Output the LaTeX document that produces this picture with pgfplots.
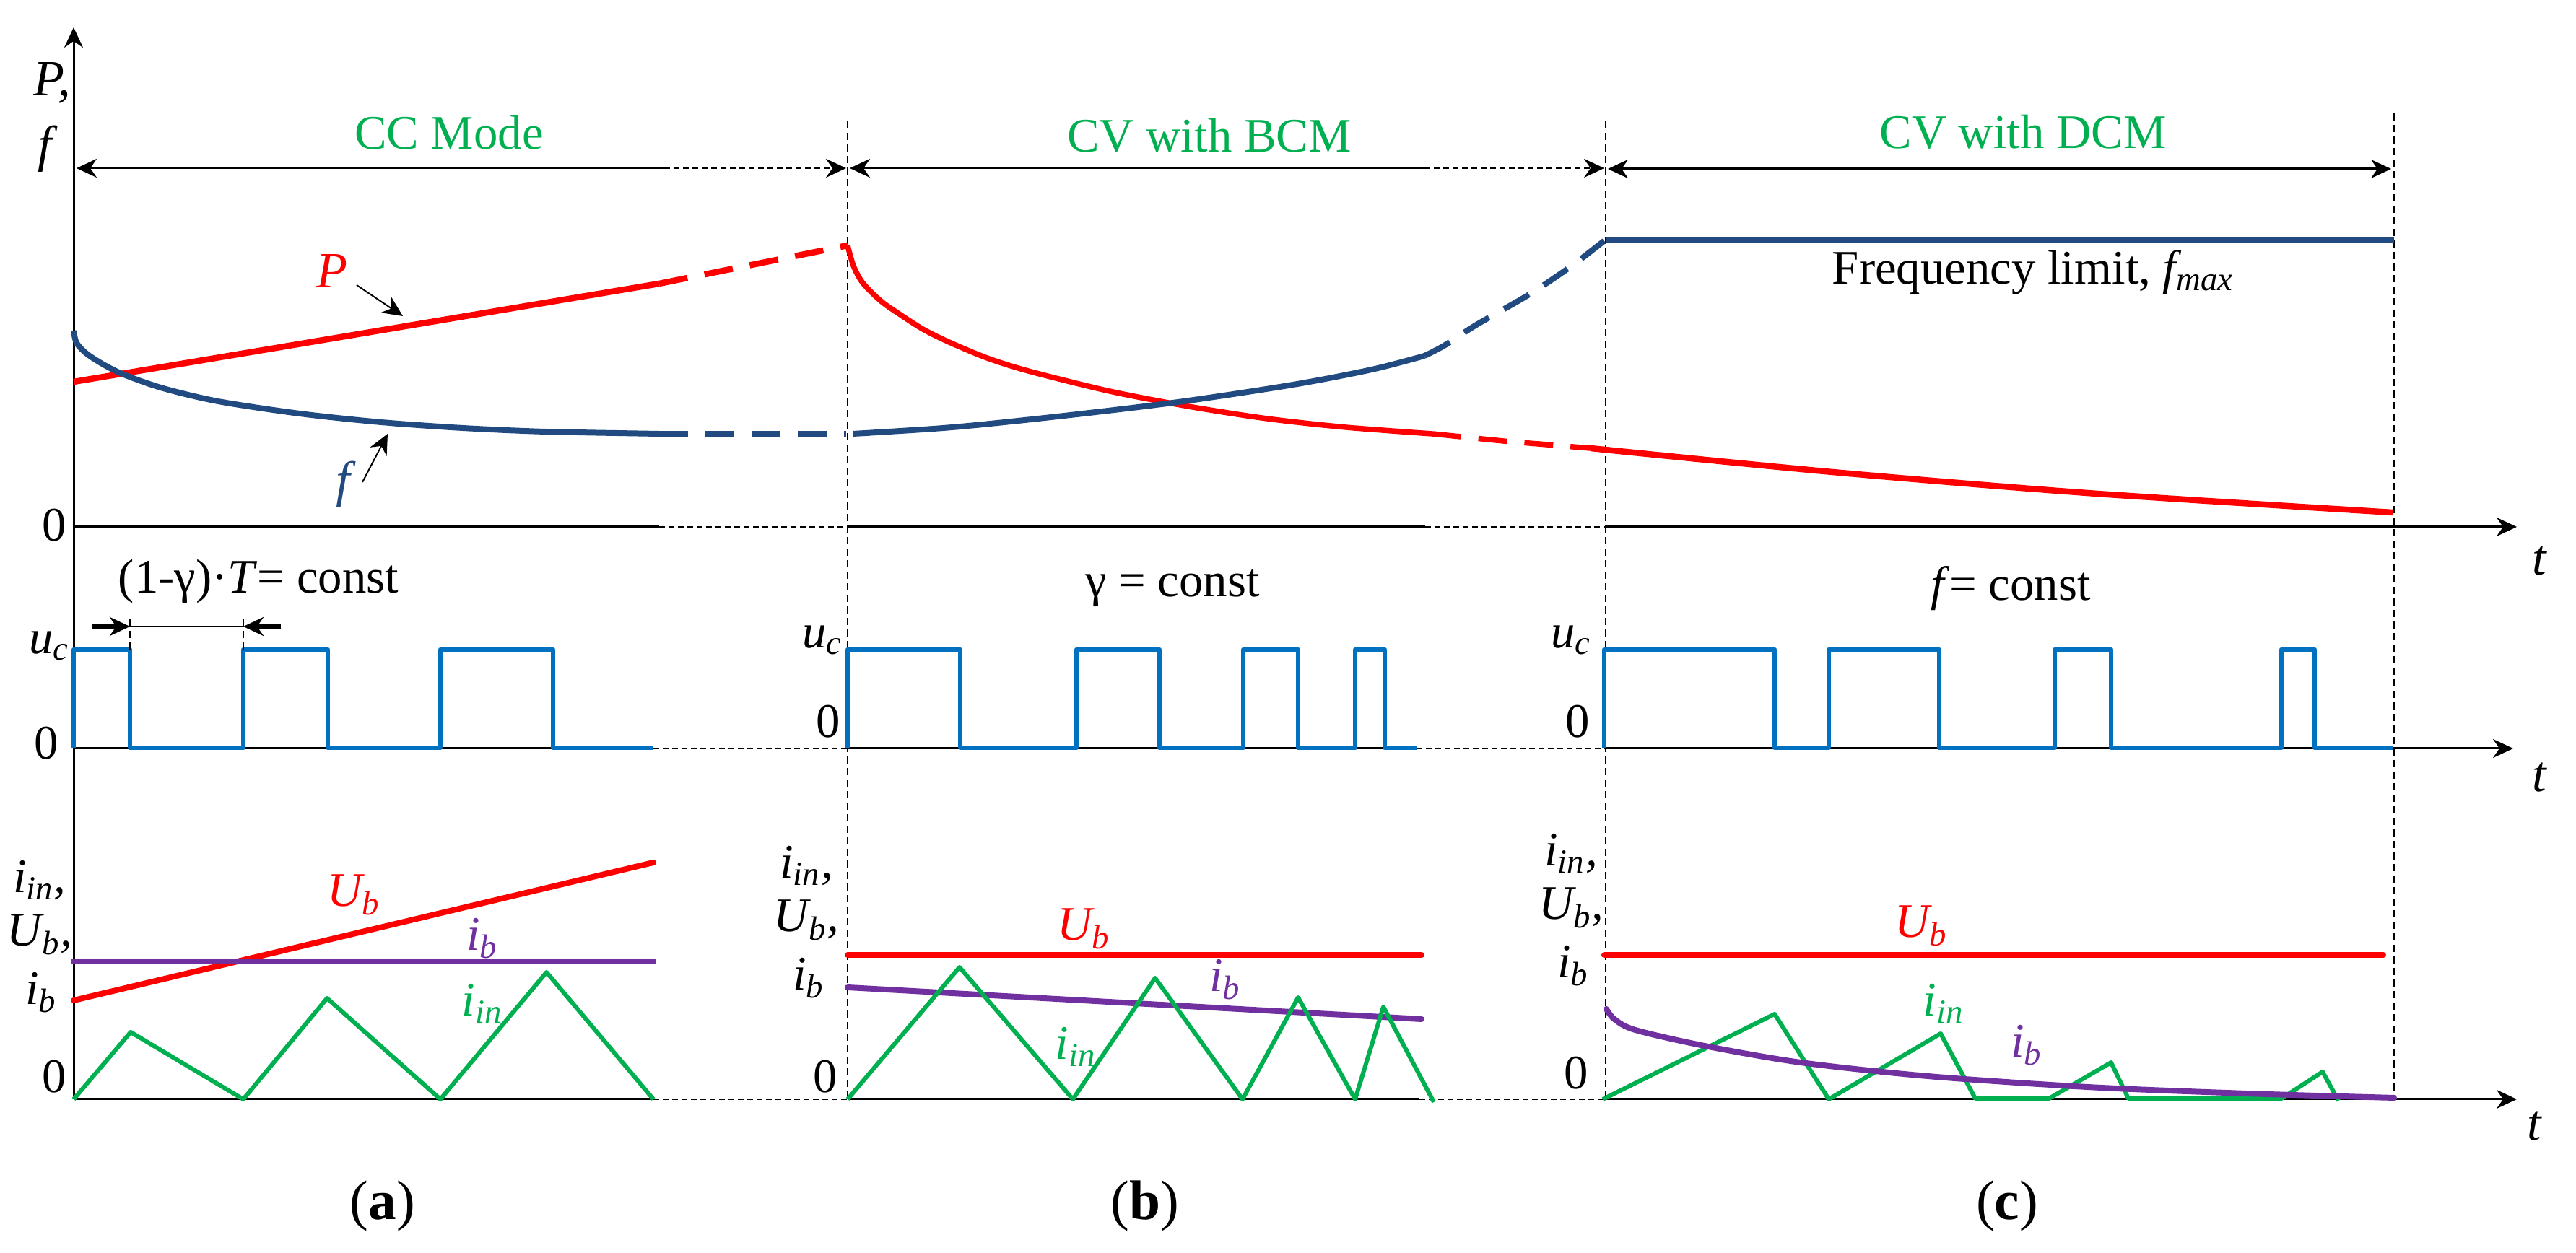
\documentclass[border=0pt]{standalone}
\usepackage{fontspec}
\setmainfont{Liberation Serif}
\usepackage{pgfplots}
\pgfplotsset{compat=1.18}
\usetikzlibrary{arrows.meta}
\definecolor{pred}{RGB}{255,0,0}
\definecolor{pnavy}{RGB}{33,74,128}
\definecolor{pblue}{RGB}{0,112,192}
\definecolor{pgreen}{RGB}{0,176,80}
\definecolor{ppurple}{RGB}{112,48,160}
\newcommand\fs{\fontsize{19}{22}\selectfont}
\newcommand\fl{\fontsize{20}{24}\selectfont}
\begin{document}
\begin{tikzpicture}[>={Stealth[length=2.8mm,width=2.6mm,inset=0.9mm]}]
\begin{axis}[width=356.8mm,height=173.6mm,scale only axis,
  xmin=0,xmax=3568,ymin=0,ymax=1736,y dir=reverse,
  axis lines=none,clip=false,no markers,
  every axis plot/.append style={line join=round}]
% ---------- axes ----------
\draw[line width=0.3mm,->] (axis cs:102,1523) -- (axis cs:102,38);
\draw[line width=0.3mm] (axis cs:102,730) -- (axis cs:913,730);
\draw[line width=0.25mm,dash pattern=on 0.8mm off 0.5mm] (axis cs:913,730) -- (axis cs:1174,730);
\draw[line width=0.3mm] (axis cs:1174,730) -- (axis cs:1974,730);
\draw[line width=0.25mm,dash pattern=on 0.8mm off 0.5mm] (axis cs:1974,730) -- (axis cs:2224,730);
\draw[line width=0.3mm,->] (axis cs:2224,730) -- (axis cs:3486,730);
\draw[line width=0.3mm] (axis cs:102,1037) -- (axis cs:905,1037);
\draw[line width=0.25mm,dash pattern=on 0.8mm off 0.5mm] (axis cs:905,1037) -- (axis cs:1174,1037);
\draw[line width=0.3mm] (axis cs:1174,1037) -- (axis cs:1962,1037);
\draw[line width=0.25mm,dash pattern=on 0.8mm off 0.5mm] (axis cs:1962,1037) -- (axis cs:2224,1037);
\draw[line width=0.3mm,->] (axis cs:2224,1037) -- (axis cs:3481,1037);
\draw[line width=0.3mm] (axis cs:102,1523) -- (axis cs:905,1523);
\draw[line width=0.25mm,dash pattern=on 0.8mm off 0.5mm] (axis cs:905,1523) -- (axis cs:1174,1523);
\draw[line width=0.3mm] (axis cs:1174,1523) -- (axis cs:1966,1523);
\draw[line width=0.25mm,dash pattern=on 0.8mm off 0.5mm] (axis cs:1966,1523) -- (axis cs:2224,1523);
\draw[line width=0.3mm,->] (axis cs:2224,1523) -- (axis cs:3486,1523);
% vertical separators
\draw[line width=0.2mm,dash pattern=on 1mm off 0.6mm] (axis cs:1174,168) -- (axis cs:1174,1527);
\draw[line width=0.2mm,dash pattern=on 1mm off 0.6mm] (axis cs:2224,168) -- (axis cs:2224,1527);
\draw[line width=0.2mm,dash pattern=on 1mm off 0.6mm] (axis cs:3316,157) -- (axis cs:3316,1523);
% mode arrows
\draw[line width=0.3mm,<-] (axis cs:106,233) -- (axis cs:920,233);
\draw[line width=0.25mm,dash pattern=on 0.8mm off 0.5mm,->] (axis cs:920,233) -- (axis cs:1172,233);
\draw[line width=0.3mm,<-] (axis cs:1177,233) -- (axis cs:1973,233);
\draw[line width=0.25mm,dash pattern=on 0.8mm off 0.5mm,->] (axis cs:1973,233) -- (axis cs:2222,233);
\draw[line width=0.3mm,<->] (axis cs:2227,234) -- (axis cs:3312,234);
% ---------- top panel curves ----------
\addplot[pred,line width=0.85mm] coordinates {(102,529) (913,393)};
\addplot[pred,line width=0.85mm,dash pattern=on 4mm off 2.4mm] coordinates {(913,393) (1174,340)};
\addplot[pnavy,line width=0.8mm,smooth,tension=0.5] coordinates {(102,458) (106,475) (120,490) (145,506) (174,520) (226,538) (302,556) (415,573) (528,585) (641,593) (755,598) (913,601)};
\addplot[pnavy,line width=0.8mm,dash pattern=on 4mm off 2.4mm] coordinates {(913,601) (1172,601)};
\addplot[pred,line width=0.75mm,smooth,tension=0.5] coordinates {(1174,340) (1182,368) (1195,392) (1220,417) (1247,436) (1280,457) (1319,476) (1370,497) (1428,515) (1537,542) (1646,563) (1755,580) (1864,592) (1984,601)};
\addplot[pred,line width=0.75mm,dash pattern=on 4mm off 2.4mm] coordinates {(1984,601) (2082,611) (2203,621)};
\addplot[pred,line width=0.85mm,smooth,tension=0.5] coordinates {(2203,621) (2538,654) (2891,683) (3314,710)};
\addplot[pnavy,line width=0.8mm,smooth,tension=0.5] coordinates {(1182,601) (1319,592) (1465,577) (1632,557) (1791,533) (1900,512) (1973,493)};
\addplot[pnavy,line width=0.8mm,dash pattern=on 4mm off 2.4mm,smooth,tension=0.5] coordinates {(1973,493) (2000,479) (2045,450) (2118,408) (2176,369) (2224,332)};
\addplot[pnavy,line width=0.8mm] coordinates {(2224,332) (3316,332)};
% annotation arrows
\draw[line width=0.2mm,->] (axis cs:494,395) -- (axis cs:558,438);
\draw[line width=0.2mm,->] (axis cs:502,668) -- (axis cs:537,601);
% ---------- middle panel ----------
\addplot[pblue,line width=0.65mm] coordinates {(102,1036) (102,900) (180,900) (180,1036) (337,1036) (337,900) (454,900) (454,1036) (610,1036) (610,900) (766,900) (766,1036) (905,1036)};
\addplot[pblue,line width=0.65mm] coordinates {(1174,1036) (1174,900) (1330,900) (1330,1036) (1491,1036) (1491,900) (1606,900) (1606,1036) (1722,1036) (1722,900) (1798,900) (1798,1036) (1877,1036) (1877,900) (1918,900) (1918,1036) (1962,1036)};
\addplot[pblue,line width=0.65mm] coordinates {(2222,1036) (2222,900) (2458,900) (2458,1036) (2533,1036) (2533,900) (2686,900) (2686,1036) (2846,1036) (2846,900) (2924,900) (2924,1036) (3160,1036) (3160,900) (3206,900) (3206,1036) (3314,1036)};
\draw[line width=0.2mm,dash pattern=on 1mm off 0.6mm] (axis cs:180,858) -- (axis cs:180,903);
\draw[line width=0.2mm,dash pattern=on 1mm off 0.6mm] (axis cs:337,858) -- (axis cs:337,903);
\draw[line width=0.2mm] (axis cs:180,868) -- (axis cs:337,868);
\draw[line width=0.6mm,->] (axis cs:128,868) -- (axis cs:180,868);
\draw[line width=0.6mm,->] (axis cs:389,868) -- (axis cs:337,868);
% ---------- bottom panel ----------
\addplot[pred,line width=0.8mm,line cap=round] coordinates {(102,1386) (905,1195)};
\addplot[ppurple,line width=0.8mm,line cap=round] coordinates {(102,1332) (905,1332)};
\addplot[pgreen,line width=0.6mm] coordinates {(102,1523) (181,1430) (337,1523) (453,1383) (610,1523) (757,1347) (905,1523)};
\addplot[pred,line width=0.8mm,line cap=round] coordinates {(1174,1323) (1969,1323)};
\addplot[ppurple,line width=0.8mm,line cap=round] coordinates {(1174,1368) (1969,1412)};
\addplot[pgreen,line width=0.6mm] coordinates {(1174,1523) (1329,1340) (1486,1523) (1600,1355) (1721,1523) (1798,1382) (1877,1523) (1916,1395) (1986,1527)};
\addplot[pred,line width=0.8mm,line cap=round] coordinates {(2222,1323) (3301,1323)};
\addplot[pgreen,line width=0.6mm] coordinates {(2220,1523) (2458,1405) (2533,1523) (2688,1432) (2736,1522) (2838,1522) (2924,1472) (2948,1522) (3160,1522) (3217,1485) (3239,1525)};
\addplot[ppurple,line width=0.8mm,line cap=round,smooth,tension=0.5] coordinates {(2225,1398) (2236,1412) (2265,1427) (2361,1449) (2494,1472) (2670,1491) (2891,1506) (3111,1515) (3316,1521)};
% ---------- texts ----------
\node[font=\fl\itshape] at (axis cs:72,115) {P,};
\node[font=\fl\itshape] at (axis cs:62,206) {f};
\node[font=\fs] at (axis cs:75,728) {0};
\node[font=\fs,text=pgreen] at (axis cs:622,184) {CC Mode};
\node[font=\fs,text=pgreen] at (axis cs:1675,188) {CV with BCM};
\node[font=\fs,text=pgreen] at (axis cs:2802,183) {CV with DCM};
\node[font=\fs] at (axis cs:2816,377) {Frequency limit, \textit{f\textsubscript{max}}};
\node[font=\fl\itshape,text=pred] at (axis cs:460,376) {P};
\node[font=\fl\itshape,text=pnavy] at (axis cs:475,671) {f};
\node[font=\fl\itshape] at (axis cs:3517,777) {t};
\node[font=\fs] at (axis cs:358,805) {(1-γ)·\textit{T}= const};
\node[font=\fs] at (axis cs:1624,815) {γ = const};
\node[font=\fs] at (axis cs:2785,815) {\textit{f}= const};
\node[font=\fs\itshape] at (axis cs:68,895) {u\textsubscript{c}};
\node[font=\fs\itshape] at (axis cs:1139,887) {u\textsubscript{c}};
\node[font=\fs\itshape] at (axis cs:2176,887) {u\textsubscript{c}};
\node[font=\fs] at (axis cs:64,1030) {0};
\node[font=\fs] at (axis cs:1147,1000) {0};
\node[font=\fs] at (axis cs:2185,1000) {0};
\node[font=\fl\itshape] at (axis cs:3517,1077) {t};
\node[font=\fs\itshape] at (axis cs:55,1220) {i\textsubscript{in},};
\node[font=\fs\itshape] at (axis cs:55,1295) {U\textsubscript{b},};
\node[font=\fs\itshape] at (axis cs:57,1375) {i\textsubscript{b}};
\node[font=\fs] at (axis cs:75,1492) {0};
\node[font=\fs\itshape] at (axis cs:1117,1200) {i\textsubscript{in},};
\node[font=\fs\itshape] at (axis cs:1117,1275) {U\textsubscript{b},};
\node[font=\fs\itshape] at (axis cs:1120,1355) {i\textsubscript{b}};
\node[font=\fs] at (axis cs:1143,1492) {0};
\node[font=\fs\itshape] at (axis cs:2176,1183) {i\textsubscript{in},};
\node[font=\fs\itshape] at (axis cs:2176,1258) {U\textsubscript{b},};
\node[font=\fs\itshape] at (axis cs:2179,1338) {i\textsubscript{b}};
\node[font=\fs] at (axis cs:2183,1487) {0};
\node[font=\fs\itshape,text=pred] at (axis cs:490,1240) {U\textsubscript{b}};
\node[font=\fs\itshape,text=ppurple] at (axis cs:668,1300) {i\textsubscript{b}};
\node[font=\fs\itshape,text=pgreen] at (axis cs:668,1390) {i\textsubscript{in}};
\node[font=\fs\itshape,text=pred] at (axis cs:1501,1287) {U\textsubscript{b}};
\node[font=\fs\itshape,text=ppurple] at (axis cs:1697,1357) {i\textsubscript{b}};
\node[font=\fs\itshape,text=pgreen] at (axis cs:1490,1450) {i\textsubscript{in}};
\node[font=\fs\itshape,text=pred] at (axis cs:2661,1283) {U\textsubscript{b}};
\node[font=\fs\itshape,text=pgreen] at (axis cs:2692,1390) {i\textsubscript{in}};
\node[font=\fs\itshape,text=ppurple] at (axis cs:2807,1448) {i\textsubscript{b}};
\node[font=\fl\itshape] at (axis cs:3510,1560) {t};
\node[font=\fontsize{22}{26}\selectfont] at (axis cs:530,1671) {(\textbf{a})};
\node[font=\fontsize{22}{26}\selectfont] at (axis cs:1586,1671) {(\textbf{b})};
\node[font=\fontsize{22}{26}\selectfont] at (axis cs:2780,1671) {(\textbf{c})};
\end{axis}
\pgfresetboundingbox
\path (current axis.south west) rectangle (current axis.north east);
\end{tikzpicture}
\end{document}
